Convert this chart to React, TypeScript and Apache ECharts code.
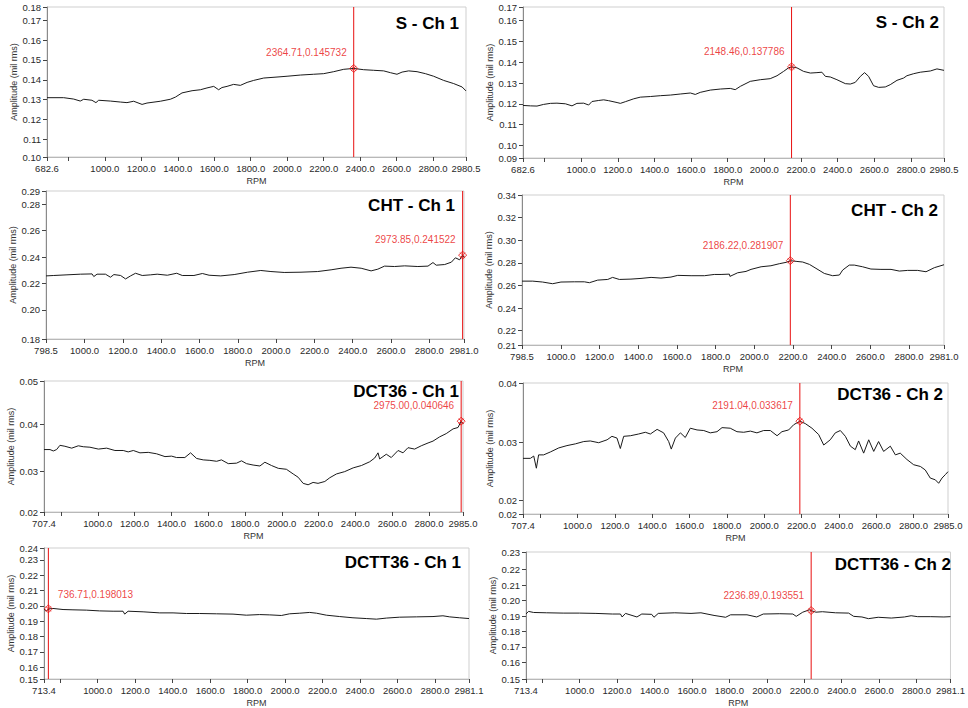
import React, { useEffect, useRef } from "react";
import * as echarts from "echarts";

// ---------- DATA ----------
const xTickValues = [1000, 1200, 1400, 1600, 1800, 2000, 2200, 2400, 2600, 2800];
const xMinorTick = [800];

const sCh1: [number, number][] = [
  [682.6, 0.131], [774, 0.131], [829, 0.1303], [865, 0.1293], [884, 0.1302], [929, 0.1297], [951, 0.1285], [966, 0.1297],
  [1030, 0.1293], [1085, 0.1288], [1121, 0.1285], [1158, 0.1292], [1204, 0.1276], [1231, 0.1283], [1304, 0.1292], [1359, 0.1302],
  [1387, 0.1313], [1423, 0.1334], [1478, 0.1345], [1524, 0.135], [1560, 0.1359], [1597, 0.1367], [1624, 0.135], [1642, 0.1361],
  [1670, 0.1367], [1706, 0.1377], [1743, 0.1372], [1780, 0.1387], [1816, 0.1397], [1871, 0.1409], [1944, 0.1414], [1999, 0.1418],
  [2072, 0.1424], [2145, 0.1428], [2200, 0.1431], [2255, 0.1441], [2310, 0.1453], [2364.71, 0.145732], [2419, 0.1451], [2474, 0.1448],
  [2529, 0.1445], [2566, 0.1436], [2602, 0.1428], [2630, 0.1439], [2666, 0.1445], [2712, 0.1441], [2758, 0.1431], [2803, 0.1418],
  [2858, 0.1397], [2913, 0.1381], [2959, 0.1364], [2980.5, 0.1344],
];
const sCh1Cursor: [number, number] = [2364.71, 0.145732];
const sCh1XRange = [682.6, 2980.5];
const sCh1YRange = [0.1011, 0.1767];
const sCh1YTicks = [0.11, 0.12, 0.13, 0.14, 0.15, 0.16, 0.17];

const sCh2: [number, number][] = [
  [682.6, 0.1192], [723, 0.119], [759, 0.1189], [795, 0.1197], [832, 0.1202], [868, 0.1203], [914, 0.12], [950, 0.119],
  [977, 0.1202], [1014, 0.1203], [1041, 0.1194], [1059, 0.1211], [1096, 0.1216], [1123, 0.1219], [1150, 0.1215], [1196, 0.1206],
  [1214, 0.1202], [1241, 0.121], [1287, 0.1224], [1323, 0.1232], [1378, 0.1235], [1432, 0.1239], [1487, 0.1242], [1541, 0.1247],
  [1596, 0.1252], [1623, 0.1245], [1650, 0.1255], [1705, 0.1266], [1760, 0.1271], [1814, 0.1274], [1841, 0.1268], [1869, 0.1284],
  [1923, 0.1308], [1978, 0.1316], [2032, 0.1321], [2069, 0.1335], [2105, 0.1356], [2132, 0.1373], [2148.46, 0.137786], [2178, 0.1373],
  [2214, 0.1356], [2251, 0.1348], [2287, 0.135], [2314, 0.1352], [2333, 0.1332], [2360, 0.1329], [2396, 0.1316], [2442, 0.1297],
  [2469, 0.1295], [2496, 0.1303], [2524, 0.1332], [2547, 0.135], [2569, 0.1332], [2596, 0.1287], [2624, 0.1279], [2660, 0.1281],
  [2687, 0.1292], [2724, 0.1313], [2760, 0.1324], [2778, 0.1335], [2815, 0.1345], [2851, 0.1352], [2906, 0.1358], [2942, 0.1368],
  [2980.5, 0.1361],
];
const sCh2Cursor: [number, number] = [2148.46, 0.137786];
const sCh2XRange = [682.6, 2980.5];
const sCh2YRange = [0.0939, 0.1666];
const sCh2YTicks = [0.1, 0.11, 0.12, 0.13, 0.14, 0.15, 0.16];

const chtCh1: [number, number][] = [
  [798.5, 0.2258], [839, 0.2261], [908, 0.2266], [978, 0.2271], [1039, 0.2273], [1048, 0.2253], [1065, 0.2271], [1109, 0.2271],
  [1135, 0.2248], [1153, 0.2268], [1188, 0.2261], [1214, 0.2235], [1240, 0.2258], [1266, 0.2278], [1301, 0.2261], [1345, 0.2266],
  [1379, 0.2271], [1432, 0.2263], [1481, 0.2278], [1510, 0.2261], [1571, 0.2261], [1615, 0.2276], [1650, 0.2263], [1711, 0.2258],
  [1781, 0.2268], [1851, 0.2286], [1920, 0.2299], [1973, 0.2291], [2042, 0.2284], [2130, 0.2286], [2217, 0.2291], [2287, 0.2304],
  [2339, 0.2316], [2391, 0.2324], [2444, 0.2316], [2496, 0.2296], [2531, 0.2309], [2566, 0.2332], [2618, 0.2329], [2671, 0.2334],
  [2740, 0.2329], [2793, 0.2332], [2819, 0.2359], [2836, 0.2339], [2880, 0.2344], [2915, 0.2362], [2936, 0.2395], [2958, 0.238],
  [2973.85, 0.241522], [2981, 0.2397],
];
const chtCh1Cursor: [number, number] = [2973.85, 0.241522];
const chtCh1XRange = [798.5, 2981.0];
const chtCh1YRange = [0.178, 0.2901];
const chtCh1YTicks = [0.2, 0.22, 0.24, 0.26, 0.28];

const chtCh2: [number, number][] = [
  [798.5, 0.2638], [854, 0.2638], [905, 0.263], [957, 0.2615], [1000, 0.263], [1069, 0.2632], [1121, 0.2632], [1147, 0.2624],
  [1190, 0.2647], [1242, 0.2653], [1267, 0.2671], [1302, 0.2653], [1362, 0.2656], [1414, 0.2662], [1466, 0.2671], [1517, 0.2665],
  [1569, 0.2674], [1604, 0.2689], [1673, 0.2686], [1742, 0.2686], [1793, 0.2697], [1828, 0.2697], [1871, 0.27], [1874, 0.268],
  [1914, 0.2712], [1957, 0.2724], [1983, 0.2742], [2035, 0.2765], [2086, 0.2774], [2129, 0.2792], [2164, 0.2804], [2186.22, 0.281907],
  [2216, 0.2813], [2250, 0.2807], [2285, 0.2786], [2319, 0.2751], [2362, 0.2706], [2405, 0.2686], [2440, 0.2692], [2457, 0.2736],
  [2491, 0.278], [2517, 0.278], [2560, 0.2765], [2603, 0.2745], [2655, 0.2742], [2707, 0.2742], [2750, 0.2727], [2793, 0.2733],
  [2845, 0.2733], [2888, 0.2721], [2931, 0.2757], [2981, 0.2783],
];
const chtCh2Cursor: [number, number] = [2186.22, 0.281907];
const chtCh2XRange = [798.5, 2981.0];
const chtCh2YRange = [0.2073, 0.34];
const chtCh2YTicks = [0.22, 0.24, 0.26, 0.28, 0.3, 0.32];

const dct36Ch1: [number, number][] = [
  [707.4, 0.0346], [740, 0.0346], [758, 0.0343], [776, 0.0346], [794, 0.0355], [821, 0.0353], [858, 0.0349], [894, 0.0354],
  [921, 0.0352], [957, 0.0351], [1003, 0.0347], [1048, 0.0349], [1093, 0.0344], [1138, 0.0344], [1165, 0.0341], [1193, 0.0344],
  [1229, 0.0339], [1274, 0.034], [1319, 0.0337], [1365, 0.0331], [1401, 0.0332], [1428, 0.0329], [1473, 0.0329], [1504, 0.0339],
  [1537, 0.0327], [1573, 0.0324], [1609, 0.0323], [1646, 0.0321], [1672, 0.0324], [1709, 0.0316], [1754, 0.0317], [1781, 0.0322],
  [1808, 0.0316], [1844, 0.0313], [1881, 0.0311], [1908, 0.0319], [1944, 0.0312], [1981, 0.0306], [2025, 0.0304], [2062, 0.0294],
  [2089, 0.0287], [2116, 0.0274], [2143, 0.0271], [2170, 0.0276], [2197, 0.0274], [2234, 0.0278], [2261, 0.0286], [2297, 0.0294],
  [2342, 0.0299], [2388, 0.0307], [2433, 0.0312], [2478, 0.032], [2505, 0.0328], [2523, 0.0339], [2532, 0.0326], [2568, 0.0336],
  [2595, 0.0329], [2632, 0.0344], [2659, 0.0339], [2686, 0.035], [2722, 0.0347], [2758, 0.0354], [2795, 0.036], [2822, 0.0364],
  [2858, 0.0373], [2894, 0.038], [2931, 0.039], [2958, 0.0393], [2975, 0.040646], [2985, 0.0401],
];
const dct36Ch1Cursor: [number, number] = [2975.0, 0.040646];
const dct36Ch1XRange = [707.4, 2985.0];
const dct36Ch1YRange = [0.0213, 0.0492];
const dct36Ch1YTicks = [0.03, 0.04];

const dct36Ch2: [number, number][] = [
  [707.4, 0.0272], [747, 0.0272], [765, 0.0276], [779, 0.0255], [791, 0.0278], [818, 0.0278], [854, 0.0283], [899, 0.029],
  [943, 0.0294], [988, 0.0297], [1033, 0.0301], [1068, 0.0302], [1113, 0.0299], [1158, 0.0304], [1184, 0.031], [1211, 0.0307],
  [1229, 0.0289], [1247, 0.031], [1283, 0.0311], [1327, 0.0314], [1363, 0.0317], [1390, 0.0314], [1426, 0.0322], [1461, 0.0316],
  [1488, 0.0301], [1502, 0.0288], [1524, 0.0307], [1551, 0.0316], [1577, 0.0308], [1604, 0.0324], [1640, 0.0321], [1676, 0.032],
  [1711, 0.0316], [1747, 0.0318], [1774, 0.0325], [1818, 0.0324], [1854, 0.0318], [1890, 0.0317], [1926, 0.0319], [1961, 0.0316],
  [1997, 0.032], [2033, 0.032], [2069, 0.0311], [2095, 0.0318], [2131, 0.0321], [2158, 0.033], [2191.04, 0.033617], [2220, 0.0332],
  [2256, 0.0324], [2292, 0.0313], [2319, 0.0295], [2354, 0.0304], [2381, 0.0316], [2408, 0.032], [2435, 0.031], [2462, 0.0293],
  [2488, 0.0287], [2506, 0.0302], [2533, 0.0281], [2560, 0.0304], [2587, 0.0284], [2613, 0.0301], [2640, 0.0284], [2676, 0.0293],
  [2703, 0.0278], [2729, 0.0281], [2765, 0.027], [2801, 0.0261], [2837, 0.0258], [2863, 0.0252], [2890, 0.0238], [2917, 0.0235],
  [2935, 0.0229], [2953, 0.0238], [2971, 0.0244], [2985, 0.0249],
];
const dct36Ch2Cursor: [number, number] = [2191.04, 0.033617];
const dct36Ch2XRange = [707.4, 2985.0];
const dct36Ch2YRange = [0.0176, 0.0402];
const dct36Ch2YTicks = [0.02, 0.03];

const dctt36Ch1: [number, number][] = [
  [713.4, 0.1978], [726, 0.1967], [740, 0.198], [761, 0.1983], [815, 0.1976], [868, 0.1974], [939, 0.1972], [1010, 0.1967],
  [1082, 0.1965], [1135, 0.1965], [1144, 0.1946], [1162, 0.1965], [1242, 0.1961], [1331, 0.1954], [1402, 0.1954], [1473, 0.195],
  [1544, 0.195], [1633, 0.1948], [1722, 0.1946], [1793, 0.1939], [1864, 0.1943], [1918, 0.1941], [1980, 0.1937], [2024, 0.1948],
  [2078, 0.1952], [2131, 0.1957], [2167, 0.1952], [2220, 0.1939], [2291, 0.193], [2362, 0.1922], [2433, 0.1917], [2487, 0.1913],
  [2540, 0.192], [2611, 0.1926], [2700, 0.1928], [2789, 0.193], [2842, 0.1935], [2878, 0.1928], [2931, 0.1922], [2981.1, 0.1917],
];
const dctt36Ch1Cursor: [number, number] = [736.71, 0.198013];
const dctt36Ch1XRange = [713.4, 2981.1];
const dctt36Ch1YRange = [0.1522, 0.2378];
const dctt36Ch1YTicks = [0.16, 0.17, 0.18, 0.19, 0.2, 0.21, 0.22, 0.23];

const dctt36Ch2: [number, number][] = [
  [713.4, 0.1913], [727, 0.193], [754, 0.1923], [824, 0.1921], [912, 0.1919], [999, 0.1919], [1087, 0.1917], [1175, 0.1913],
  [1218, 0.1913], [1227, 0.1894], [1245, 0.1917], [1306, 0.1894], [1332, 0.1913], [1385, 0.1911], [1397, 0.1892], [1420, 0.1917],
  [1508, 0.1921], [1595, 0.1917], [1648, 0.1921], [1718, 0.1904], [1780, 0.1892], [1806, 0.1908], [1894, 0.1908], [1946, 0.1894],
  [1981, 0.1913], [2069, 0.1915], [2139, 0.1913], [2157, 0.1898], [2192, 0.1925], [2227, 0.194], [2236.89, 0.193551], [2262, 0.1925],
  [2297, 0.1928], [2367, 0.1921], [2437, 0.1919], [2464, 0.1898], [2508, 0.1894], [2543, 0.1883], [2595, 0.1892], [2665, 0.1887],
  [2735, 0.1894], [2771, 0.1902], [2806, 0.1896], [2876, 0.1896], [2946, 0.1894], [2981.1, 0.1896],
];
const dctt36Ch2Cursor: [number, number] = [2236.89, 0.193551];
const dctt36Ch2XRange = [713.4, 2981.1];
const dctt36Ch2YRange = [0.1493, 0.2314];
const dctt36Ch2YTicks = [0.16, 0.17, 0.18, 0.19, 0.2, 0.21, 0.22];

const titles = ["S - Ch 1", "S - Ch 2", "CHT - Ch 1", "CHT - Ch 2", "DCT36 - Ch 1", "DCT36 - Ch 2", "DCTT36 - Ch 1", "DCTT36 - Ch 2"];
const xAxisName = "RPM";
const yAxisName = "Amplitude (mil rms)";

const panels = [
  { data: sCh1, cursor: sCh1Cursor, xr: sCh1XRange, yr: sCh1YRange, yt: sCh1YTicks, minor: true },
  { data: sCh2, cursor: sCh2Cursor, xr: sCh2XRange, yr: sCh2YRange, yt: sCh2YTicks, minor: true },
  { data: chtCh1, cursor: chtCh1Cursor, xr: chtCh1XRange, yr: chtCh1YRange, yt: chtCh1YTicks, minor: false },
  { data: chtCh2, cursor: chtCh2Cursor, xr: chtCh2XRange, yr: chtCh2YRange, yt: chtCh2YTicks, minor: false },
  { data: dct36Ch1, cursor: dct36Ch1Cursor, xr: dct36Ch1XRange, yr: dct36Ch1YRange, yt: dct36Ch1YTicks, minor: true },
  { data: dct36Ch2, cursor: dct36Ch2Cursor, xr: dct36Ch2XRange, yr: dct36Ch2YRange, yt: dct36Ch2YTicks, minor: true },
  { data: dctt36Ch1, cursor: dctt36Ch1Cursor, xr: dctt36Ch1XRange, yr: dctt36Ch1YRange, yt: dctt36Ch1YTicks, minor: true },
  { data: dctt36Ch2, cursor: dctt36Ch2Cursor, xr: dctt36Ch2XRange, yr: dctt36Ch2YRange, yt: dctt36Ch2YTicks, minor: true },
];

// ---------- LAYOUT ----------
const gridBoxes = [
  { left: 47, top: 7, width: 419, height: 150 },
  { left: 523, top: 7, width: 421, height: 151 },
  { left: 46, top: 191, width: 418, height: 148 },
  { left: 522, top: 195, width: 422, height: 150 },
  { left: 44, top: 381, width: 419, height: 131 },
  { left: 523, top: 383, width: 425, height: 131 },
  { left: 44, top: 548, width: 425, height: 132 },
  { left: 526, top: 552, width: 431, height: 131 },
];
const titlePos = [
  [459, 23], [939, 22], [455, 205], [938, 210], [459, 391], [943, 394], [461, 562], [951, 564],
];
// cursor label placed to the right of the marker (true) or to the left (false)
const labelOnRight = [false, false, false, false, false, false, true, false];

const FONT = "Liberation Sans";
const RED = "#e81010";

function buildOption() {
  const grid: any[] = [];
  const xAxis: any[] = [];
  const yAxis: any[] = [];
  const series: any[] = [];
  const graphic: any[] = [];

  panels.forEach((p, i) => {
    const b = gridBoxes[i];
    grid.push({ ...b, show: true, borderColor: "#cfcfcf", borderWidth: 1, backgroundColor: "#fff" });
    const xLabels = [p.xr[0], ...xTickValues, p.xr[1]];
    const xTicksAll = p.minor ? [p.xr[0], ...xMinorTick, ...xTickValues, p.xr[1]] : xLabels;
    xAxis.push({
      type: "value",
      gridIndex: i,
      min: p.xr[0],
      max: p.xr[1],
      name: xAxisName,
      nameLocation: "middle",
      nameGap: 19,
      nameTextStyle: { fontFamily: FONT, fontSize: 9, color: "#333" },
      axisLine: { show: true, lineStyle: { color: "#b8b8b8", width: 1 } },
      axisTick: { show: true, length: 4, customValues: xTicksAll, lineStyle: { color: "#444" } },
      axisLabel: {
        customValues: xLabels,
        formatter: (v: number) => v.toFixed(1),
        fontFamily: FONT,
        fontSize: 9.5,
        color: "#2a2a2a",
        margin: 6,
      },
      splitLine: { show: false },
    });
    const yLabels = [p.yr[0], ...p.yt, p.yr[1]];
    yAxis.push({
      type: "value",
      gridIndex: i,
      min: p.yr[0],
      max: p.yr[1],
      name: yAxisName,
      nameLocation: "middle",
      nameGap: 28,
      nameTextStyle: { fontFamily: FONT, fontSize: 9, color: "#333" },
      axisLine: { show: true, lineStyle: { color: "#8a8a8a", width: 1 } },
      axisTick: { show: true, length: 4, customValues: yLabels, lineStyle: { color: "#444" } },
      axisLabel: {
        customValues: yLabels,
        formatter: (v: number) => v.toFixed(2),
        fontFamily: FONT,
        fontSize: 9.5,
        color: "#2a2a2a",
        margin: 6,
      },
      splitLine: { show: false },
    });
    // red cursor line spanning the whole plot height
    series.push({
      type: "line",
      xAxisIndex: i,
      yAxisIndex: i,
      data: [[p.cursor[0], p.yr[0]], [p.cursor[0], p.yr[1]]],
      showSymbol: false,
      symbol: "none",
      silent: true,
      lineStyle: { color: RED, width: 1 },
      z: 1,
    });
    series.push({
      type: "line",
      xAxisIndex: i,
      yAxisIndex: i,
      data: p.data,
      showSymbol: false,
      symbol: "none",
      lineStyle: { color: "#1a1a1a", width: 1 },
      z: 2,
    });
    const right = labelOnRight[i];
    series.push({
      type: "scatter",
      xAxisIndex: i,
      yAxisIndex: i,
      data: [p.cursor],
      symbol: "path://M4,0 L8,4 L4,8 L0,4 Z M1.5,1.5 L6.5,6.5 M6.5,1.5 L1.5,6.5",
      symbolSize: 8,
      itemStyle: { color: "rgba(0,0,0,0)", borderColor: RED, borderWidth: 1 },
      label: {
        show: true,
        formatter: () => `${p.cursor[0].toFixed(2)},${p.cursor[1].toFixed(6)}`,
        position: right ? [14, -5] : [-2.5, -6],
        align: right ? "left" : "right",
        verticalAlign: "bottom",
        color: RED,
        fontFamily: FONT,
        fontSize: 10,
      },
      z: 3,
    });
    graphic.push({
      type: "text",
      x: titlePos[i][0],
      y: titlePos[i][1],
      style: {
        text: titles[i],
        align: "right",
        verticalAlign: "middle",
        fontFamily: FONT,
        fontWeight: "bold",
        fontSize: 17,
        fill: "#000",
      },
      z: 10,
    });
  });

  return { animation: false, backgroundColor: "#fff", grid, xAxis, yAxis, series, graphic };
}

export default function App() {
  const ref = useRef<HTMLDivElement>(null);
  useEffect(() => {
    if (!ref.current) return;
    const chart = echarts.init(ref.current, null, { renderer: "svg" });
    chart.setOption(buildOption() as any);
    return () => chart.dispose();
  }, []);
  return (
    <div
      ref={ref}
      style={{ position: "absolute", left: 0, top: 0, width: 968, height: 708, background: "#fff" }}
    />
  );
}
